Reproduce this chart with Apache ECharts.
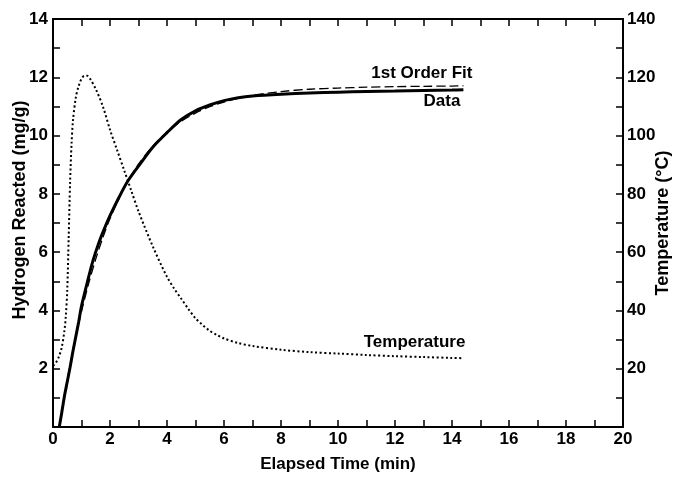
<!DOCTYPE html>
<html>
<head>
<meta charset="utf-8">
<script src="https://cdn.jsdelivr.net/npm/echarts@6/dist/echarts.min.js"></script>
<style>
  html, body { margin: 0; padding: 0; background: #fff; }
  #chart { width: 681px; height: 479px; }
</style>
</head>
<body>
<div id="chart"></div>
<script>
// Measured hydrogen uptake (mg/g) against elapsed time (min)
const dataTime = [0.22, 0.3, 0.4, 0.5, 0.6, 0.7, 0.8, 0.9, 1.0, 1.2, 1.4, 1.6, 1.8, 2.0, 2.3, 2.6, 3.0, 3.5, 4.0, 4.5, 5.0, 5.5, 6.0, 6.5, 7.0, 8.0, 9.0, 10, 11, 12, 13, 14, 14.4];
const dataH    = [0, 0.45, 1.05, 1.55, 2.05, 2.6, 3.1, 3.6, 4.15, 4.95, 5.7, 6.3, 6.8, 7.25, 7.85, 8.4, 8.95, 9.6, 10.1, 10.55, 10.85, 11.05, 11.2, 11.3, 11.36, 11.42, 11.46, 11.49, 11.51, 11.53, 11.55, 11.56, 11.57];

// First-order kinetic fit (mg/g)
const fitTime = [0.22, 0.4, 0.6, 0.8, 1.0, 1.25, 1.5, 1.75, 2.0, 2.5, 3.0, 3.5, 4.0, 4.5, 5.0, 5.5, 6.0, 7, 8, 9, 10, 11, 12, 13, 14, 14.4];
const fitH    = [0, 1.06, 2.13, 3.10, 3.96, 4.92, 5.76, 6.50, 7.15, 8.21, 9.02, 9.64, 10.12, 10.49, 10.77, 10.99, 11.15, 11.38, 11.51, 11.59, 11.63, 11.66, 11.68, 11.69, 11.70, 11.71];

// Sample temperature (°C)
const tempTime = [0, 0.1, 0.2, 0.3, 0.4, 0.45, 0.5, 0.55, 0.6, 0.65, 0.7, 0.8, 0.9, 1.0, 1.1, 1.2, 1.3, 1.5, 1.75, 2.0, 2.25, 2.5, 2.75, 3.0, 3.5, 4.0, 4.25, 4.5, 4.75, 5.0, 5.25, 5.5, 5.75, 6.0, 6.5, 7.0, 8.0, 9.0, 10, 11, 12, 13, 14, 14.4];
const tempC    = [21, 22, 24, 27, 33, 38, 47, 65, 84, 97, 105, 113, 117, 119.5, 120.5, 120.5, 119.5, 116, 110, 102, 95, 88, 81, 74, 62, 51.5, 47.5, 44, 40.5, 37.3, 35, 33, 31.6, 30.4, 28.8, 27.8, 26.5, 25.7, 25.2, 24.7, 24.3, 24.0, 23.7, 23.6];

// Axis ranges and tick spacing
const timeRange = [0, 20], timeStep = 2;
const hydroRange = [0, 14], hydroStep = 2;
const tempRange = [0, 140], tempStep = 20;

// Curve names written beside the line ends
const seriesNames = ['Data', '1st Order Fit', 'Temperature'];

const FONT = "'Liberation Sans', Arial, Helvetica, sans-serif";
const txt = size => ({ color: '#000', fontFamily: FONT, fontWeight: 'bold', fontSize: size });

const pairs = (xs, ys) => xs.map((x, i) => [x, ys[i]]);

const lineBlack = { color: '#000', width: 2 };
const tickIn = { show: true, inside: true, length: 7, lineStyle: { color: '#000', width: 1.5 } };
const minorIn = { show: true, splitNumber: 2, length: 7, lineStyle: { color: '#000', width: 1.5 } };
const hideZero = v => (v === 0 ? '' : String(v));

const chart = echarts.init(document.getElementById('chart'), null, { renderer: 'canvas' });

chart.setOption({
  animation: false,
  backgroundColor: '#fff',
  grid: { left: 53, right: 58, top: 19, bottom: 52, containLabel: false, outerBoundsMode: 'none' },
  xAxis: [
    {
      type: 'value', min: timeRange[0], max: timeRange[1], interval: timeStep, position: 'bottom',
      axisLine: { onZero: false, lineStyle: lineBlack },
      axisTick: tickIn, minorTick: minorIn,
      axisLabel: Object.assign({ margin: 4 }, txt(17)),
      splitLine: { show: false },
      name: 'Elapsed Time (min)', nameLocation: 'middle', nameGap: 29, nameMoveOverlap: false,
      nameTextStyle: txt(17)
    },
    {
      type: 'value', min: timeRange[0], max: timeRange[1], interval: timeStep, position: 'top',
      axisLine: { onZero: false, lineStyle: lineBlack },
      axisTick: tickIn, minorTick: minorIn,
      axisLabel: { show: false }, splitLine: { show: false }
    }
  ],
  yAxis: [
    {
      type: 'value', min: hydroRange[0], max: hydroRange[1], interval: hydroStep, position: 'left',
      axisLine: { show: true, onZero: false, lineStyle: lineBlack },
      axisTick: tickIn, minorTick: minorIn,
      axisLabel: Object.assign({ margin: 5, formatter: hideZero }, txt(17)),
      splitLine: { show: false },
      name: 'Hydrogen Reacted (mg/g)', nameLocation: 'middle', nameGap: 24, nameRotate: 90,
      nameMoveOverlap: false,
      nameTextStyle: Object.assign({ padding: [0, 0, 0, 26] }, txt(18))
    },
    {
      type: 'value', min: tempRange[0], max: tempRange[1], interval: tempStep, position: 'right',
      axisLine: { show: true, onZero: false, lineStyle: lineBlack },
      axisTick: tickIn, minorTick: minorIn,
      axisLabel: Object.assign({ margin: 4, formatter: hideZero }, txt(17)),
      splitLine: { show: false },
      name: 'Temperature (°C)', nameLocation: 'middle', nameGap: 31, nameRotate: 90,
      nameMoveOverlap: false,
      nameTextStyle: txt(18)
    }
  ],
  series: [
    {
      name: seriesNames[0], type: 'line', xAxisIndex: 0, yAxisIndex: 0,
      data: pairs(dataTime, dataH), symbol: 'none', smooth: 0.3, z: 4,
      lineStyle: { color: '#000', width: 3 }
    },
    {
      name: seriesNames[1], type: 'line', xAxisIndex: 0, yAxisIndex: 0,
      data: pairs(fitTime, fitH), symbol: 'none', smooth: 0.3, z: 3,
      lineStyle: { color: '#000', width: 1.3, type: [9, 4] }
    },
    {
      name: seriesNames[2], type: 'line', xAxisIndex: 0, yAxisIndex: 1,
      data: pairs(tempTime, tempC), symbol: 'none', smooth: 0.3, z: 2,
      lineStyle: { color: '#000', width: 2, type: [2, 2.5] }
    }
  ]
});

// Place each curve's name next to the last point of that curve
const endOf = (xs, ys, yAxisIndex) =>
  chart.convertToPixel({ xAxisIndex: 0, yAxisIndex }, [xs[xs.length - 1], ys[ys.length - 1]]);

const pData = endOf(dataTime, dataH, 0);
const pFit = endOf(fitTime, fitH, 0);
const pTemp = endOf(tempTime, tempC, 1);

const tag = (text, p, dx, dy) => ({
  type: 'text', x: p[0] + dx, y: p[1] + dy,
  style: { text, fill: '#000', font: "bold 17px " + FONT, align: 'right', verticalAlign: 'middle' }
});

chart.setOption({
  graphic: [
    tag(seriesNames[1], pFit, 9, -12),
    tag(seriesNames[0], pData, -3, 11),
    tag(seriesNames[2], pTemp, 2, -16)
  ]
});
</script>
</body>
</html>
